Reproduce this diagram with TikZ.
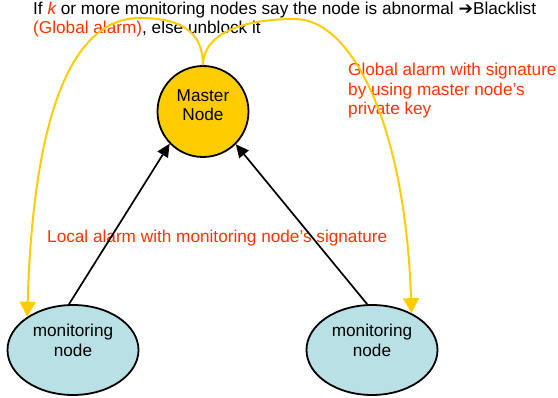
\documentclass[tikz,border=0pt]{standalone}
\usepackage{fontspec}
\setmainfont{Liberation Sans}
\newfontfamily\symfont{DejaVu Sans}
\usetikzlibrary{arrows.meta,shapes.geometric}
\definecolor{gold}{RGB}{255,204,0}
\definecolor{paleteal}{RGB}{185,224,228}
\definecolor{alarm}{RGB}{255,51,0}
\begin{document}
\begin{tikzpicture}[x=1pt,y=-1pt,
  master/.style={circle, draw=black, line width=1.8pt, fill=gold, minimum size=91pt, inner sep=0pt},
  monitor/.style={ellipse, draw=black, line width=1.8pt, fill=paleteal, minimum width=131pt, minimum height=90pt, inner sep=0pt},
  lbl/.style={font=\fontsize{17.2}{19.5}\selectfont, align=center, inner sep=0pt},
  headline/.style={font=\fontsize{17.2}{19.5}\selectfont, anchor=base west, inner sep=0pt},
  note/.style={headline, text=alarm},
  report/.style={draw=black, line width=1.7pt, -{Triangle[width=12pt,length=13pt]}},
  alert/.style={draw=gold, line width=2pt, -{Triangle[width=16pt,length=15pt]}}]
\useasboundingbox (0,0) rectangle (558,398);

% shapes
\node[master] (m) at (203,111.5) {};
\node[monitor] (l) at (73,350) {};
\node[monitor] (r) at (372,350) {};

% texts
\node[lbl] (mt) at (203,105) {Master\\Node};
\node[lbl] (lt) at (73,340.5) {monitoring\\node};
\node[lbl] (rt) at (372,340.5) {monitoring\\node};
\node[headline] (t1) at (33,15) {If {\color{alarm}\itshape k} or more monitoring nodes say the node is abnormal {\symfont\bfseries ➔}Blacklist};
\node[headline] (t2) at (33,34) {{\color{alarm}(Global alarm)}, else unblock it};
\node[note] (g1) at (348,76) {Global alarm with signature};
\node[note] (g2) at (348,95.5) {by using master node’s};
\node[note] (g3) at (348,115) {private key};
\node[note] (loc) at (47,243) {Local alarm with monitoring node’s signature};

% connectors
\draw[report] (l.95) -- (m.224);
\draw[report] (r.96) -- (m.315);
\draw[alert] (m.north) .. controls (203,35) and (185,18) .. (140,18)
             .. controls (95,18) and (35,60) .. (l.144);
\draw[alert] (m.north) .. controls (203,35) and (240,19) .. (295,19)
             .. controls (350,19) and (405,120) .. (r.43);
\end{tikzpicture}
\end{document}
